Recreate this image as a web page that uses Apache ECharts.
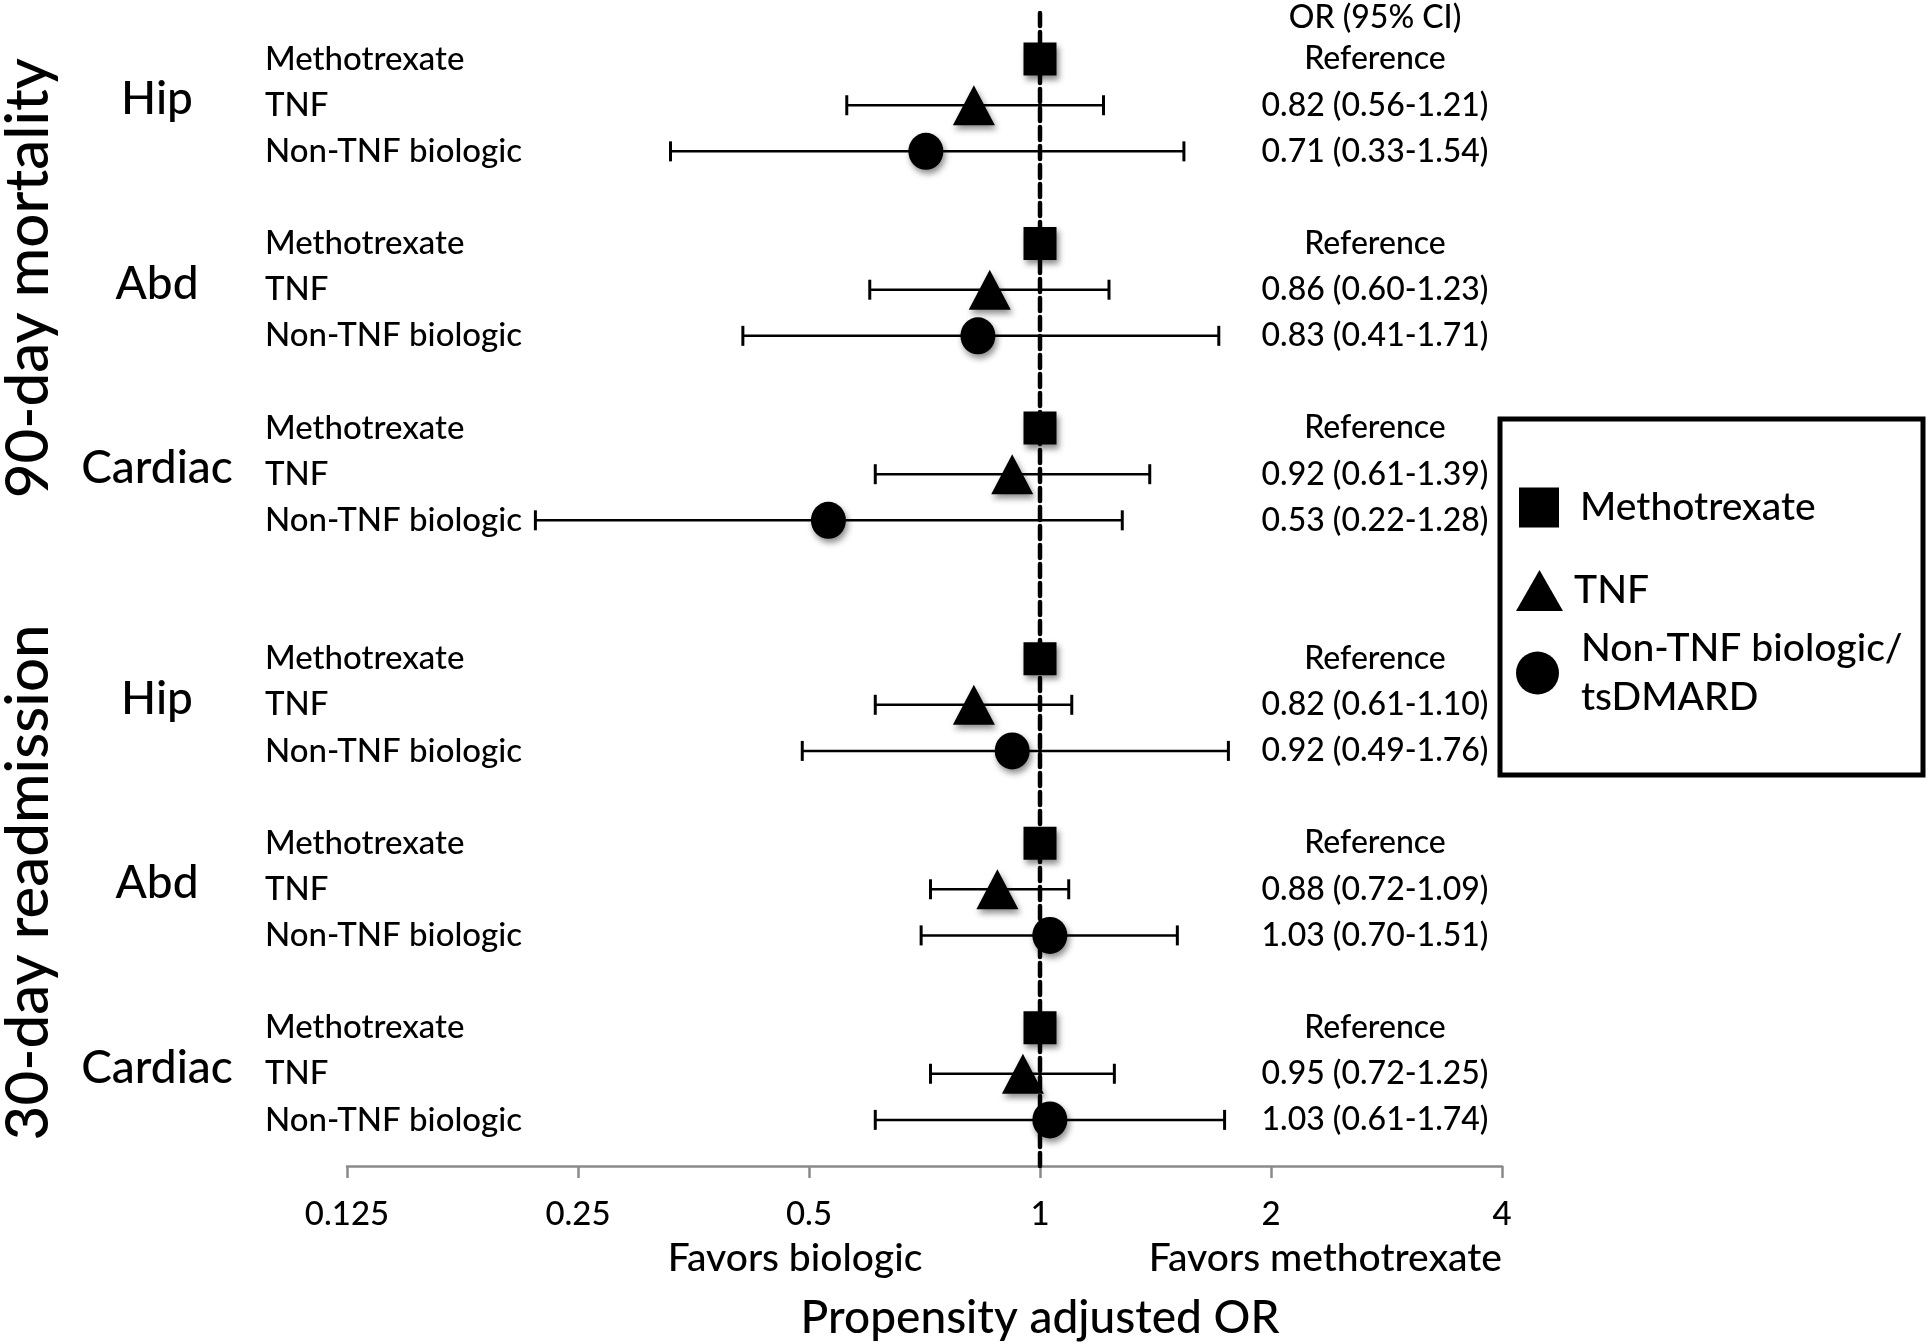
<!DOCTYPE html>
<html>
<head>
<meta charset="utf-8">
<script src="https://cdn.jsdelivr.net/npm/echarts@6/dist/echarts.min.js"></script>
<style>
  html, body { margin: 0; padding: 0; background: #fff; }
  #main { width: 1929px; height: 1344px; }
</style>
</head>
<body>
<div id="main"></div>
<script>
// one value per outcome x surgery: 90-day hip, abd, cardiac, then 30-day hip, abd, cardiac
const outcomes = ['90-day mortality', '30-day readmission']
const surgeries = ['Hip', 'Abd', 'Cardiac']
const drugs = ['Methotrexate', 'TNF', 'Non-TNF biologic']
const legendNames = ['Methotrexate', 'TNF', 'Non-TNF biologic/tsDMARD']
const mtxOR = [1, 1, 1, 1, 1, 1]
const tnfOR = [0.82, 0.86, 0.92, 0.82, 0.88, 0.95]
const tnfLow = [0.56, 0.60, 0.61, 0.61, 0.72, 0.72]
const tnfHigh = [1.21, 1.23, 1.39, 1.10, 1.09, 1.25]
const nonTnfOR = [0.71, 0.83, 0.53, 0.92, 1.03, 1.03]
const nonTnfLow = [0.33, 0.41, 0.22, 0.49, 0.70, 0.61]
const nonTnfHigh = [1.54, 1.71, 1.28, 1.76, 1.51, 1.74]
const xTicks = [0.125, 0.25, 0.5, 1, 2, 4]

const FONT = 'Lato'
const WEIGHT = 500

// row index of the first drug of a group (blank row between groups, two between outcomes)
function groupStart (g) {
  return Math.floor(g / 3) * 13 + (g % 3) * 4
}

const groups = mtxOR.map((v, g) => g)
const rowLabel = {}
groups.forEach(g => drugs.forEach((d, i) => { rowLabel[groupStart(g) + i] = d }))

const fmt = v => v.toFixed(2)
const orRows = [[1, -1]]
const orTexts = ['OR (95% CI)']
groups.forEach(g => {
  const s = groupStart(g)
  orRows.push([1, s], [1, s + 1], [1, s + 2])
  orTexts.push('Reference',
    `${fmt(tnfOR[g])} (${fmt(tnfLow[g])}-${fmt(tnfHigh[g])})`,
    `${fmt(nonTnfOR[g])} (${fmt(nonTnfLow[g])}-${fmt(nonTnfHigh[g])})`)
})

const errData = []
groups.forEach(g => {
  errData.push([tnfLow[g], tnfHigh[g], groupStart(g) + 1])
  errData.push([nonTnfLow[g], nonTnfHigh[g], groupStart(g) + 2])
})

const markerStyle = {
  color: '#000',
  opacity: 1,
  shadowBlur: 6,
  shadowColor: 'rgba(0,0,0,0.45)',
  shadowOffsetX: 2,
  shadowOffsetY: 4
}

function textEl (x, y, text, size, align, extra) {
  return Object.assign({
    type: 'text',
    x: x,
    y: y,
    style: {
      text: text,
      fontFamily: FONT,
      fontWeight: WEIGHT,
      fontSize: size,
      fill: '#000',
      align: align || 'center',
      verticalAlign: 'middle'
    }
  }, extra || {})
}

function renderBar (params, api) {
  const row = api.value(2)
  const a = api.coord([api.value(0), row])
  const b = api.coord([api.value(1), row])
  const h = 10
  const thin = { stroke: '#000', lineWidth: 2.5 }
  const cap = { stroke: '#000', lineWidth: 3 }
  return {
    type: 'group',
    children: [
      { type: 'line', shape: { x1: a[0], y1: a[1], x2: b[0], y2: b[1] }, style: thin },
      { type: 'line', shape: { x1: a[0], y1: a[1] - h, x2: a[0], y2: a[1] + h }, style: cap },
      { type: 'line', shape: { x1: b[0], y1: b[1] - h, x2: b[0], y2: b[1] + h }, style: cap }
    ]
  }
}

function renderOrText (params, api) {
  const cs = params.coordSys
  let y = api.coord([1, api.value(1)])[1]
  if (params.dataIndex === 0) y += 5
  return textEl(cs.x + cs.width - 127, y, orTexts[params.dataIndex], 32)
}

function renderGroupText (params, api) {
  const cs = params.coordSys
  const y = api.coord([1, api.value(1)])[1]
  return textEl(cs.x - 190, y - 6, surgeries[params.dataIndex % 3], 46)
}

function renderSection (params, api) {
  const cs = params.coordSys
  const y = api.coord([1, api.value(1)])[1]
  return textEl(cs.x - 318, y, outcomes[params.dataIndex], 60, 'center', { rotation: Math.PI / 2 })
}

function renderAxisNotes (params, api) {
  const base = api.coord([1, api.value(1)])
  const left = api.coord([0.5, api.value(1)])
  const right = api.coord([4, api.value(1)])
  return {
    type: 'group',
    children: [
      textEl(left[0] - 14, base[1] + 92, 'Favors biologic', 39),
      textEl(right[0], base[1] + 92, 'Favors methotrexate', 39, 'right'),
      textEl(base[0], base[1] + 152, 'Propensity adjusted OR', 46)
    ]
  }
}

// one legend block per series so each row sits where the reference puts it
const legendText = { fontFamily: FONT, fontWeight: WEIGHT, fontSize: 39, lineHeight: 49, color: '#000' }
function legendBlock (name, left, top, w, h, gap) {
  return {
    orient: 'vertical',
    left: left,
    top: top,
    padding: 0,
    itemWidth: w,
    itemHeight: h,
    selectedMode: false,
    data: [name],
    formatter: n => n.replace('/', '/\n'),
    itemStyle: { shadowBlur: 0, shadowOffsetX: 0, shadowOffsetY: 0, shadowColor: 'rgba(0,0,0,0)' },
    textStyle: Object.assign({ padding: [0, 0, 0, gap] }, legendText)
  }
}

const chart = echarts.init(document.getElementById('main'))
chart.setOption({
  animation: false,
  backgroundColor: '#fff',
  grid: { left: 347, top: 13, width: 1155, height: 1153, outerBoundsMode: 'none' },
  xAxis: {
    type: 'log',
    logBase: 2,
    position: 'bottom',
    min: xTicks[0],
    max: xTicks[xTicks.length - 1],
    splitNumber: xTicks.length - 1,
    axisLine: { onZero: false, lineStyle: { color: '#8a8a8a', width: 2.5 } },
    axisTick: { show: true, length: 12, lineStyle: { color: '#8a8a8a', width: 2.5 } },
    axisLabel: { fontFamily: FONT, fontWeight: WEIGHT, fontSize: 33, color: '#000', margin: 32, formatter: v => String(v) },
    splitLine: { show: false }
  },
  yAxis: {
    type: 'value',
    min: -1,
    max: 24,
    interval: 1,
    inverse: true,
    axisLine: { show: false },
    axisTick: { show: false },
    splitLine: { show: false },
    axisLabel: {
      fontFamily: FONT,
      fontWeight: WEIGHT,
      fontSize: 33,
      color: '#000',
      align: 'left',
      margin: 82,
      padding: [0, 0, 6, 0],
      formatter: v => rowLabel[v] || ''
    }
  },
  legend: [
    legendBlock(legendNames[0], 1519, 483, 40, 40, 16),
    legendBlock(legendNames[1], 1516, 566, 47, 41, 6),
    legendBlock(legendNames[2], 1516, 624, 43, 43, 17)
  ],
  graphic: [{
    type: 'rect',
    shape: { x: 1500, y: 419, width: 423, height: 356 },
    style: { fill: 'none', stroke: '#000', lineWidth: 5 }
  }],
  series: [
    {
      type: 'line',
      data: [[1, -1], [1, 24]],
      symbol: 'none',
      silent: true,
      lineStyle: { color: '#000', width: 4.5, type: [13, 6], cap: 'round' },
      z: 1
    },
    {
      type: 'custom',
      renderItem: renderBar,
      data: errData,
      encode: { x: [0, 1], y: 2 },
      z: 2
    },
    {
      name: legendNames[0],
      type: 'scatter',
      symbol: 'rect',
      symbolSize: 33,
      data: mtxOR.map((v, g) => [v, groupStart(g)]),
      itemStyle: markerStyle,
      z: 3
    },
    {
      name: legendNames[1],
      type: 'scatter',
      symbol: 'triangle',
      symbolSize: [42, 40],
      data: tnfOR.map((v, g) => [v, groupStart(g) + 1]),
      itemStyle: markerStyle,
      z: 3
    },
    {
      name: legendNames[2],
      type: 'scatter',
      symbol: 'circle',
      symbolSize: [35, 37],
      data: nonTnfOR.map((v, g) => [v, groupStart(g) + 2]),
      itemStyle: markerStyle,
      z: 3
    },
    {
      type: 'custom',
      renderItem: renderOrText,
      data: orRows,
      encode: { x: 0, y: 1 },
      silent: true
    },
    {
      type: 'custom',
      renderItem: renderGroupText,
      data: groups.map(g => [1, groupStart(g) + 1]),
      encode: { x: 0, y: 1 },
      silent: true
    },
    {
      type: 'custom',
      renderItem: renderSection,
      data: outcomes.map((o, i) => [1, i * 13.1 + 4.75]),
      encode: { x: 0, y: 1 },
      silent: true
    },
    {
      type: 'custom',
      renderItem: renderAxisNotes,
      data: [[1, 24]],
      encode: { x: 0, y: 1 },
      silent: true
    }
  ]
})
</script>
</body>
</html>
